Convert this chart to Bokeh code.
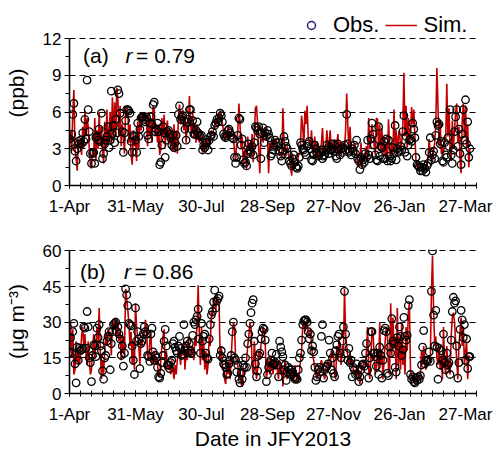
import datetime as dt
from bokeh.plotting import figure
from bokeh.layouts import column
from bokeh.models import FixedTicker, Label, Legend, LegendItem, Range1d
from bokeh.embed import file_html
from bokeh.resources import INLINE

# ---------------- data (daily, 1-Apr-2013 .. 31-Mar-2014) ----------------
start_date = dt.date(2013, 4, 1)
tick_dates = [dt.date(2013, 4, 1), dt.date(2013, 5, 31), dt.date(2013, 7, 30),
              dt.date(2013, 9, 28), dt.date(2013, 11, 27), dt.date(2014, 1, 26),
              dt.date(2014, 3, 27)]
tick_labels = ["1-Apr", "31-May", "30-Jul", "28-Sep", "27-Nov", "26-Jan", "27-Mar"]

ppb_ticks = [0, 3, 6, 9, 12]
ug_ticks = [0, 15, 30, 45, 60]

ppb_obs = [
    3.8, 3.5, 4.2, 5.8, 6.7, 2.8, 2.0, 3.0, 3.6, 3.4,
    3.7, 3.4, 4.3, 3.6, 5.4, 3.8, 8.6, 6.2, 4.4, 2.6,
    1.8, 2.6, 2.7, 1.8, 3.9, 4.0, 3.7, 4.6, 3.6, 5.9,
    2.2, 2.6, 3.4, 3.7, 4.0, 4.8, 3.1, 3.7, 7.7, 4.2,
    4.9, 3.5, 5.4, 4.3, 7.8, 7.5, 5.9, 3.8, 4.4, 2.7,
    4.3, 5.3, 6.2, 6.2, 6.1, 5.9, 3.6, 2.7, 4.1, 4.0,
    3.7, 2.7, 5.1, 4.0, 4.6, 5.5, 5.6, 5.6, 5.4, 5.2,
    5.6, 4.1, 3.8, 5.1, 5.6, 5.0, 6.6, 6.8, 4.4, 4.6,
    5.1, 4.4, 1.7, 1.9, 3.3, 4.8, 4.3, 2.3, 3.7, 4.4,
    4.5, 4.2, 3.9, 3.3, 4.1, 3.1, 3.5, 4.1, 3.2, 5.8,
    6.5, 5.4, 5.6, 5.7, 5.3, 4.6, 3.7, 5.2, 5.4, 6.2,
    6.2, 4.6, 5.3, 4.2, 4.2, 4.5, 5.2, 4.3, 4.1, 4.0,
    4.1, 2.9, 3.3, 3.1, 3.5, 3.5, 2.9, 3.7, 4.0, 4.1,
    4.4, 4.0, 4.9, 5.1, 5.4, 5.2, 5.5, 5.9, 5.7, 5.2,
    4.2, 4.0, 3.9, 4.1, 4.5, 4.6, 4.3, 4.1, 3.9, 3.8,
    2.3, 1.8, 2.3, 4.1, 5.5, 5.4, 3.3, 3.8, 2.1, 1.8,
    1.9, 1.6, 2.6, 3.4, 2.9, 2.7, 3.2, 2.5, 3.5, 4.8,
    4.7, 4.5, 4.8, 4.2, 2.2, 4.3, 4.7, 3.5, 4.3, 4.0,
    4.5, 4.2, 3.9, 2.4, 2.6, 2.9, 3.3, 3.7, 3.5, 3.2,
    3.5, 2.8, 2.4, 2.0, 2.8, 4.0, 3.6, 3.2, 3.0, 2.5,
    2.0, 1.8, 1.6, 2.2, 2.5, 1.9, 1.5, 1.4, 1.6, 2.3,
    3.5, 3.3, 3.0, 2.9, 2.7, 2.5, 3.2, 3.4, 3.6, 3.0,
    2.1, 2.0, 2.5, 3.3, 3.0, 2.6, 2.4, 2.5, 2.7, 2.9,
    2.2, 2.4, 2.5, 2.9, 3.3, 3.1, 2.6, 2.9, 3.0, 3.4,
    2.8, 3.3, 2.4, 2.2, 3.4, 2.9, 2.5, 3.0, 2.7, 3.1,
    3.3, 2.9, 5.8, 3.4, 2.7, 2.8, 2.5, 3.0, 2.8, 3.3,
    2.6, 3.7, 2.2, 2.0, 1.3, 2.3, 1.7, 2.1, 1.9, 2.6,
    2.3, 3.7, 2.5, 2.2, 3.8, 5.1, 4.2, 3.3, 2.5, 2.1,
    2.0, 4.8, 2.4, 3.2, 3.1, 2.2, 3.6, 2.2, 3.8, 2.0,
    3.7, 2.4, 2.0, 2.2, 3.1, 2.6, 4.9, 2.1, 3.0, 2.7,
    2.8, 3.2, 2.9, 4.4, 5.7, 2.7, 4.0, 2.4, 3.3, 3.7,
    3.8, 3.6, 5.1, 4.6, 3.9, 2.3, 1.7, 1.6, 1.5, 1.2,
    1.5, 1.2, 1.7, 1.4, 1.1, 1.6, 1.8, 2.7, 3.9, 2.1,
    2.5, 2.8, 2.2, 4.1, 5.2, 4.9, 5.0, 3.4, 3.6, 2.0,
    1.9, 3.5, 2.5, 2.3, 3.9, 3.2, 6.2, 2.5, 1.8, 2.9,
    4.4, 5.6, 6.2, 3.2, 4.6, 2.6, 1.7, 4.2, 6.2, 3.7,
    7.0, 3.4, 5.2, 2.3, 3.0,
]

ppb_sim = [
    3.5, 4.5, 2.8, 6.0, 7.8, 3.0, 2.2, 1.2, 3.8, 3.2,
    3.6, 2.5, 4.8, 3.2, 6.1, 4.0, 5.5, 4.8, 3.0, 1.6,
    1.4, 3.0, 2.5, 5.5, 2.0, 4.5, 3.0, 6.0, 3.2, 4.8,
    2.8, 1.8, 5.2, 3.0, 6.2, 3.4, 4.5, 6.0, 3.5, 7.2,
    3.5, 6.8, 4.0, 8.0, 7.0, 4.0, 6.5, 3.2, 5.0, 4.0,
    2.6, 6.4, 5.5, 6.3, 3.5, 5.0, 2.5, 1.7, 4.5, 3.2,
    3.8, 2.0, 5.2, 3.0, 5.8, 4.5, 6.0, 5.5, 5.8, 5.0,
    5.2, 3.2, 6.0, 4.0, 5.5, 3.5, 6.5, 6.2, 4.0, 5.0,
    3.5, 5.0, 2.5, 3.0, 5.5, 4.0, 5.8, 3.2, 4.5, 5.3,
    3.5, 4.6, 3.0, 4.2, 2.8, 5.0, 2.7, 4.5, 2.6, 5.5,
    6.6, 5.0, 5.3, 6.2, 4.5, 5.6, 3.5, 5.0, 4.5, 7.3,
    5.0, 4.2, 6.0, 3.8, 5.0, 3.5, 5.0, 4.2, 3.5, 4.5,
    3.7, 2.6, 3.3, 3.5, 3.0, 3.8, 3.0, 4.0, 3.6, 4.5,
    4.2, 4.5, 4.8, 5.5, 5.0, 5.8, 5.3, 6.1, 5.8, 5.0,
    4.5, 3.7, 4.3, 3.9, 4.8, 4.5, 4.0, 4.3, 4.1, 4.0,
    2.8, 2.0, 3.5, 4.5, 6.7, 5.0, 3.0, 4.0, 1.5, 2.8,
    3.0, 1.3, 4.0, 2.8, 3.5, 2.5, 4.2, 1.9, 3.8, 6.3,
    6.5, 5.0, 3.0, 1.0, 4.0, 4.8, 3.5, 4.5, 4.7, 3.8,
    4.2, 1.0, 3.5, 2.8, 3.5, 3.0, 3.8, 3.5, 3.8, 3.0,
    3.0, 2.4, 2.7, 2.2, 6.3, 3.5, 3.2, 2.4, 3.2, 2.6,
    2.2, 1.5, 0.8, 2.5, 2.0, 1.5, 1.8, 1.6, 2.4, 2.6,
    3.5, 5.7, 4.8, 3.0, 6.1, 5.0, 6.5, 4.0, 3.5, 3.2,
    4.5, 2.6, 3.0, 4.0, 2.2, 3.6, 2.4, 2.5, 2.8, 3.4,
    4.7, 3.0, 2.5, 3.2, 4.5, 3.0, 3.5, 4.5, 2.8, 3.5,
    2.5, 3.8, 2.7, 3.3, 4.2, 2.5, 3.6, 2.4, 3.0, 3.5,
    3.0, 4.5, 7.5, 5.0, 2.6, 4.8, 3.0, 2.5, 2.8, 3.5,
    3.2, 2.7, 1.5, 2.0, 1.8, 3.5, 1.4, 2.4, 2.0, 2.8,
    3.2, 2.0, 5.5, 3.0, 4.0, 5.0, 4.3, 3.2, 2.5, 5.5,
    5.4, 3.0, 5.0, 2.8, 4.7, 2.6, 4.0, 2.3, 3.4, 2.0,
    5.4, 3.0, 2.4, 3.5, 2.5, 6.2, 3.0, 4.5, 2.5, 4.0,
    4.5, 3.0, 3.5, 4.8, 9.2, 4.0, 6.5, 3.0, 5.5, 3.5,
    4.0, 6.4, 5.0, 6.2, 4.0, 2.0, 1.5, 1.8, 1.5, 1.2,
    1.6, 1.3, 1.5, 1.2, 1.4, 1.8, 2.5, 3.8, 2.6, 2.3,
    2.0, 2.8, 3.5, 5.0, 9.6, 6.5, 3.2, 5.2, 2.6, 3.3,
    2.5, 4.0, 3.6, 8.3, 4.0, 6.3, 3.0, 2.0, 5.3, 3.0,
    4.5, 6.0, 6.7, 3.5, 4.8, 2.0, 1.0, 5.3, 6.7, 4.0,
    6.5, 3.2, 5.0, 1.5, 3.0,
]

ug_obs = [
    17.4, 23.5, 17.0, 26.0, 29.5, 12.5, 4.5, 19.5, 14.0, 19.0,
    18.0, 18.5, 19.0, 28.0, 27.5, 19.0, 34.5, 28.0, 15.0, 13.0,
    5.0, 16.0, 20.5, 20.0, 15.5, 27.5, 23.5, 29.0, 20.0, 18.0,
    9.5, 6.0, 15.0, 16.0, 22.0, 24.0, 26.0, 10.0, 21.0, 26.0,
    29.0, 29.5, 30.0, 26.0, 28.0, 25.0, 23.0, 16.0, 20.0, 11.5,
    17.0, 44.0, 41.5, 37.0, 29.5, 29.0, 28.5, 20.0, 14.0, 8.0,
    36.0, 22.0, 26.0, 23.0, 10.5, 21.0, 22.0, 25.0, 28.0, 26.0,
    25.0, 16.0, 15.5, 13.5, 25.0, 27.5, 17.5, 14.0, 16.0, 15.0,
    11.0, 7.0, 6.5, 8.5, 13.0, 16.0, 22.0, 27.0, 20.0, 12.0,
    12.0, 10.5, 13.0, 14.0, 21.0, 22.0, 19.5, 18.0, 17.0, 20.0,
    24.0, 19.0, 16.0, 16.5, 29.0, 18.0, 20.0, 22.0, 17.0, 21.0,
    18.0, 17.0, 24.5, 30.0, 29.0, 31.0, 32.5, 35.5, 23.0, 17.0,
    29.5, 22.0, 24.0, 25.0, 17.0, 15.0, 14.5, 23.0, 29.0, 33.0,
    34.5, 38.5, 43.5, 36.0, 39.0, 40.0, 41.0, 16.0, 18.0, 15.0,
    12.5, 12.0, 11.0, 8.0, 8.5, 12.5, 14.0, 16.0, 26.0, 30.0,
    15.0, 14.0, 9.0, 12.0, 6.0, 4.5, 8.5, 6.0, 12.0, 11.0,
    15.0, 11.0, 21.0, 25.0, 29.5, 34.0, 38.0, 39.5, 22.0, 12.5,
    7.0, 9.5, 16.0, 17.0, 23.0, 26.0, 27.5, 27.0, 22.5, 5.0,
    8.0, 11.0, 13.0, 14.0, 17.0, 12.5, 12.0, 13.0, 16.5, 12.0,
    7.0, 22.0, 19.5, 17.5, 15.5, 10.0, 12.0, 5.5, 9.0, 11.0,
    10.0, 8.5, 10.0, 9.0, 7.0, 6.0, 6.5, 6.0, 10.0, 15.0,
    17.0, 22.5, 29.0, 30.5, 31.0, 31.0, 30.0, 26.0, 23.0, 25.0,
    18.0, 20.0, 17.5, 11.0, 5.5, 7.0, 10.0, 11.0, 9.0, 24.0,
    29.0, 6.5, 10.0, 11.0, 11.5, 12.5, 22.5, 17.0, 10.0, 15.0,
    8.5, 7.0, 18.0, 20.5, 24.0, 25.0, 17.0, 15.0, 22.0, 28.0,
    43.0, 25.0, 17.0, 14.0, 19.0, 13.0, 14.0, 7.0, 11.0, 10.0,
    8.0, 12.5, 8.0, 5.0, 7.0, 10.0, 12.0, 12.5, 11.5, 17.0,
    21.0, 10.0, 6.5, 15.0, 26.0, 26.0, 17.0, 17.0, 15.5, 11.5,
    17.0, 8.0, 19.5, 16.0, 6.5, 14.0, 26.5, 27.5, 26.0, 8.5,
    7.5, 19.5, 17.0, 31.5, 22.0, 21.0, 11.0, 9.0, 23.5, 20.0,
    28.0, 24.0, 16.0, 18.5, 32.0, 24.0, 22.5, 24.5, 37.0, 39.5,
    8.0, 6.0, 7.0, 5.0, 4.5, 6.5, 5.5, 7.0, 6.0, 7.5,
    12.0, 19.5, 26.5, 12.5, 14.0, 13.5, 14.0, 17.5, 13.5, 43.0,
    60.0, 33.0, 20.0, 35.0, 19.5, 6.0, 19.0, 12.0, 18.0, 14.0,
    25.0, 13.0, 10.0, 17.0, 12.0, 13.0, 8.0, 22.5, 34.5, 40.5,
    38.0, 39.0, 20.0, 6.5, 13.0, 27.0, 35.0, 31.0, 23.5, 29.0,
    14.0, 23.0, 10.5, 15.5, 15.5,
]

ug_sim = [
    17, 30, 15, 27, 8, 10, 22, 13, 18, 12,
    16, 24, 28, 20, 25, 17, 12, 22, 14, 8,
    10, 18, 25, 15, 20, 28, 22, 36, 18, 6,
    14, 8, 18, 25, 20, 27, 24, 26, 16, 28,
    30, 27, 32, 24, 29, 22, 26, 14, 24, 18,
    16, 44, 40, 35, 30, 20, 26, 12, 22, 10,
    38, 28, 24, 20, 12, 22, 20, 26, 24, 31,
    28, 16, 14, 22, 26, 12, 16, 18, 12, 15,
    12, 8, 7, 14, 20, 24, 27, 10, 18, 12,
    10, 12, 8, 14, 10, 6, 12, 8, 14, 18,
    18, 12, 20, 16, 22, 10, 18, 14, 24, 16,
    16, 20, 18, 14, 24, 20, 30, 45.5, 25, 12,
    28, 14, 22, 10, 18, 8, 12, 24, 20, 35,
    32, 40, 38, 35, 42, 39, 38, 14, 20, 12,
    10, 6, 4, 12, 8, 14, 6, 16, 24, 30,
    28, 15, 14, 12, 6, 10, 4, 3, 10, 8,
    10, 14, 20, 24, 30, 28, 12, 8, 22, 14,
    6, 10, 18, 14, 20, 24, 28, 26, 20, 6,
    10, 14, 8, 16, 12, 8, 14, 10, 15, 10,
    6, 14, 8, 12, 3, 10, 14, 8, 6, 9,
    9, 7, 10, 8, 6, 12, 7, 5, 6, 9,
    14, 18, 28, 30, 26, 28, 31, 25, 24, 27,
    20, 16, 14, 10, 8, 6, 9, 8, 12, 14,
    12, 8, 6, 10, 12, 14, 10, 12, 18, 16,
    16, 8, 6, 20, 14, 24, 18, 12, 20, 16,
    44, 25, 20, 16, 12, 17, 12, 14, 10, 8,
    10, 6, 12, 8, 4, 8, 12, 10, 14, 12,
    18, 28, 10, 6, 15, 27, 25, 16, 8, 12,
    18, 10, 30, 12, 18, 6, 14, 22, 28, 25,
    10, 8, 38, 16, 32, 20, 24, 6, 36, 12,
    24, 10, 30, 12, 20, 8, 28, 18, 34, 38,
    10, 6, 8, 5, 4, 7, 5, 8, 6, 8,
    18, 12, 20, 14, 10, 13, 15, 16, 14, 42,
    58, 35, 20, 24, 15, 12, 20, 10, 16, 6,
    28, 12, 8, 20, 10, 14, 8, 24, 32, 34,
    30, 22, 14, 6, 20, 26, 32, 20, 28, 12,
    18, 22, 6, 16, 15,
]

# ---------------- styling ----------------
FONT = "Liberation Sans"
RED = "#C00000"
NAVY = "#1F1F7A"

tick_pos = [(d - start_date).days for d in tick_dates]
x_minor = list(range(0, 371, 10))


def make_panel(obs, sim, yticks, y_end, ylabel, height, top, bottom, tag, tag_xy, r_xy, r_text,
               xlabel=None):
    ystep = yticks[1] - yticks[0]
    p = figure(width=499, height=height, output_backend="svg", toolbar_location=None,
               x_range=Range1d(0, 370), y_range=Range1d(0, y_end),
               min_border_left=69, min_border_right=23,
               min_border_top=top, min_border_bottom=bottom)
    p.outline_line_color = None
    p.background_fill_color = "white"
    p.border_fill_color = "white"

    # grid
    p.xgrid.visible = False
    p.ygrid.ticker = FixedTicker(ticks=yticks[1:])
    p.ygrid.grid_line_color = "black"
    p.ygrid.grid_line_dash = "6 4"
    p.ygrid.grid_line_width = 1.2

    # y axis
    p.yaxis.bounds = (yticks[0], yticks[-1])
    p.yaxis.ticker = FixedTicker(ticks=yticks, minor_ticks=[t + ystep / 2 for t in yticks[:-1]])
    p.yaxis.axis_line_width = 1.6
    p.yaxis.axis_line_color = "black"
    p.yaxis.major_tick_line_color = "black"
    p.yaxis.minor_tick_line_color = "black"
    p.yaxis.major_tick_line_width = 1.2
    p.yaxis.minor_tick_line_width = 1.2
    p.yaxis.major_tick_out = 5
    p.yaxis.major_tick_in = 0
    p.yaxis.minor_tick_out = 4
    p.yaxis.minor_tick_in = 0
    p.yaxis.major_label_standoff = 3
    p.yaxis.major_label_text_font = FONT
    p.yaxis.major_label_text_font_size = "17px"
    p.yaxis.major_label_text_color = "black"
    p.yaxis.axis_label = ylabel
    p.yaxis.axis_label_text_font = FONT
    p.yaxis.axis_label_text_font_size = "21px"
    p.yaxis.axis_label_text_font_style = "normal"
    p.yaxis.axis_label_text_color = "black"
    p.yaxis.axis_label_standoff = 12

    # x axis
    p.xaxis.ticker = FixedTicker(ticks=tick_pos, minor_ticks=x_minor)
    p.xaxis.major_label_overrides = {pos: lab for pos, lab in zip(tick_pos, tick_labels)}
    p.xaxis.axis_line_width = 1.6
    p.xaxis.axis_line_color = "black"
    p.xaxis.major_tick_line_color = "black"
    p.xaxis.minor_tick_line_color = "black"
    p.xaxis.major_tick_line_width = 1.0
    p.xaxis.minor_tick_line_width = 1.0
    p.xaxis.major_tick_out = 3
    p.xaxis.major_tick_in = 3
    p.xaxis.minor_tick_out = 3
    p.xaxis.minor_tick_in = 3
    p.xaxis.major_label_standoff = 8
    p.xaxis.major_label_text_font = FONT
    p.xaxis.major_label_text_font_size = "17px"
    p.xaxis.major_label_text_color = "black"
    if xlabel:
        p.xaxis.axis_label = xlabel
        p.xaxis.axis_label_text_font = FONT
        p.xaxis.axis_label_text_font_size = "21px"
        p.xaxis.axis_label_text_font_style = "normal"
        p.xaxis.axis_label_text_color = "black"
        p.xaxis.axis_label_standoff = 0

    days_sim = list(range(len(sim)))
    days_obs = list(range(len(obs)))
    sim_r = p.line(days_sim, sim, line_color=RED, line_width=1.6)
    p.scatter(days_obs, obs, marker="circle", size=7.5,
              fill_color=None, line_color="black", line_width=1.3)

    p.add_layout(Label(x=tag_xy[0], y=tag_xy[1], text=tag, text_font=FONT,
                       text_font_size="21px", text_baseline="middle", text_color="black"))
    p.add_layout(Label(x=r_xy[0], y=r_xy[1], text="r", text_font=FONT, text_font_style="italic",
                       text_font_size="21px", text_baseline="middle", text_color="black"))
    p.add_layout(Label(x=r_xy[0] + 9.5, y=r_xy[1], text=r_text, text_font=FONT,
                       text_font_size="21px", text_baseline="middle", text_color="black"))
    return p, sim_r, days_obs


# panel (a): the frame reaches the top of the page so the legend fits above the 12-ppb line
p1, sim1, d1 = make_panel(ppb_obs, ppb_sim, ppb_ticks, 12 * 185 / 147, "(ppb)", 230, 0, 45,
                          "(a)", (12.3, 10.6), (51.0, 10.6), "= 0.79")
p2, _, _ = make_panel(ug_obs, ug_sim, ug_ticks, 60.6, "(\u03bcg m\u207b\u00b3)", 222, 19, 54,
                      "(b)", (9.5, 51.5), (49.5, 51.5), "= 0.86", xlabel="Date in JFY2013")

# hidden proxy renderer that only supplies the navy legend marker
proxy_obs = p1.scatter(d1, ppb_obs, marker="circle", size=10, fill_color=None,
                       line_color=NAVY, line_width=1.5, visible=False)
legend = Legend(items=[LegendItem(label="Obs.", renderers=[proxy_obs]),
                       LegendItem(label="Sim.", renderers=[sim1])],
                orientation="horizontal", location=(226, 147),
                border_line_color=None, background_fill_alpha=0,
                label_text_font=FONT, label_text_font_size="22px",
                label_text_color="black",
                glyph_width=32, glyph_height=20, label_standoff=6,
                spacing=6, padding=2, margin=0)
p1.add_layout(legend, "center")

layout = column(p1, p2, spacing=0)
open("out.html", "w").write(file_html(layout, INLINE))
